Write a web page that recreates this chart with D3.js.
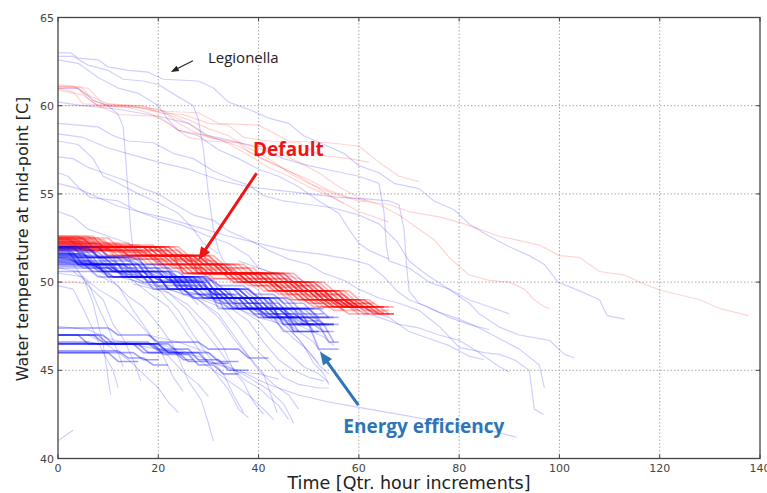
<!DOCTYPE html>
<html><head><meta charset="utf-8">
<script src="https://cdn.jsdelivr.net/npm/d3@7"></script>
<style>body{margin:0;background:#fff}svg{display:block}</style>
</head><body>
<svg id="c" width="767" height="493"></svg>
<script>
const xTicks = [0,20,40,60,80,100,120,140];
const yTicks = [40,45,50,55,60,65];
const xLabel = "Time [Qtr. hour increments]";
const yLabel = "Water temperature at mid-point [C]";

// Step-format series: [startTemp, x1,temp1, x2,temp2, ..., xEnd]
const redDense = [
 [52.5, 5,52.0, 21,51.5, 28,51.0, 33,50.5, 43,50.0, 49,49.5, 54,49.0, 58,48.6, 63],
 [52.4, 3,52.0, 19,51.5, 27,51.0, 31,50.5, 41,50.0, 48,49.5, 53,49.0, 57,48.6, 61,48.2, 66],
 [52.3, 6,52.0, 20,51.5, 26,50.5, 39,50.0, 46,49.5, 52,49.0, 56,48.6, 60],
 [52.2, 2,51.8, 14,51.5, 24,51.0, 30,50.5, 38,50.0, 45,49.5, 50,49.0, 55,48.6, 62,48.2, 67],
 [52.0, 17,51.5, 25,51.0, 29,50.5, 40,50.0, 47,49.5, 51,49.0, 57,48.6, 64],
 [52.5, 8,52.0, 22,51.5, 30,51.0, 35,50.5, 44,50.0, 50,49.5, 55,49.0, 59,48.6, 65],
 [52.1, 4,51.8, 12,51.5, 22,51.0, 27,50.5, 37,50.0, 43,49.5, 49,49.0, 54,48.6, 58],
 [52.0, 15,51.5, 23,50.5, 36,50.0, 44,49.5, 52,49.0, 58,48.6, 62,48.2, 66],
 [52.3, 5,52.0, 18,51.5, 28,51.0, 32,50.5, 42,50.0, 49,49.5, 54,49.0, 60],
 [51.9, 10,51.5, 20,51.0, 26,50.5, 35,50.0, 41,49.5, 46,49.0, 52,48.6, 57],
 [52.5, 7,52.0, 21,51.5, 29,50.5, 41,50.0, 48,49.5, 53,49.0, 56,48.6, 61,48.2, 64],
 [52.2, 4,52.0, 16,51.5, 25,51.0, 31,50.5, 39,50.0, 46,49.5, 51,49.0, 56,48.6, 63],
 [52.0, 20,51.5, 27,51.0, 33,50.5, 45,50.0, 51,49.5, 56,49.0, 60,48.6, 65],
 [52.4, 2,52.0, 13,51.5, 23,51.0, 28,50.5, 36,50.0, 42,49.5, 48,49.0, 53,48.6, 59],
 [52.6, 6,52.1, 19,51.5, 26,51.0, 32,50.5, 43,50.0, 48,49.5, 55,49.0, 59,48.6, 62],
 [51.9, 8,51.5, 18,51.0, 24,50.5, 34,50.0, 40,49.5, 45,49.0, 50,48.6, 55],
 [52.3, 9,52.0, 20,51.5, 27,50.5, 38,50.0, 45,49.5, 50,49.0, 55,48.6, 59,48.2, 62],
 [52.1, 3,51.8, 15,51.5, 24,51.0, 29,50.5, 40,50.0, 47,49.5, 53,49.0, 57,48.6, 60],
 [52.5, 5,52.0, 22,51.5, 30,51.0, 36,50.5, 46,50.0, 52,49.5, 57,49.0, 61,48.6, 66],
 [52.0, 12,51.5, 21,51.0, 27,50.5, 37,50.0, 44,49.5, 49,49.0, 54,48.6, 58],
 [52.4, 4,52.0, 18,51.5, 26,51.0, 30,50.5, 42,50.0, 48,49.5, 52,49.0, 58,48.6, 61],
 [52.2, 7,51.8, 16,51.5, 23,50.5, 35,50.0, 43,49.5, 50,49.0, 55,48.6, 60,48.2, 65],
 [52.6, 4,52.2, 14,51.8, 22,51.3, 30,50.8, 38,50.2, 45,49.8, 50,49.3, 56,48.8, 62,48.4, 66],
 [52.5, 10,52.0, 23,51.5, 29,51.0, 34,50.5, 44,50.0, 50,49.5, 56,49.0, 61,48.6, 65],
 [52.4, 6,52.1, 16,51.8, 24,51.2, 31,50.8, 39,50.2, 46,49.8, 52,49.3, 57,48.8, 63],
 [52.3, 3,52.0, 11,51.5, 19,51.0, 25,50.5, 34,50.0, 42,49.5, 47,49.0, 53,48.6, 58,48.2, 62],
 [52.2, 8,51.8, 17,51.3, 25,50.8, 33,50.2, 41,49.8, 47,49.3, 53,48.8, 59,48.4, 64],
 [52.1, 6,52.0, 18,51.5, 26,50.5, 37,50.0, 43,49.5, 51,49.0, 57,48.6, 63,48.2, 67],
 [52.0, 14,51.5, 22,51.0, 28,50.5, 38,50.0, 45,49.5, 50,49.0, 55,48.6, 60],
 [51.9, 6,51.5, 16,51.0, 23,50.5, 33,50.0, 39,49.5, 44,49.0, 49,48.6, 54],
 [51.8, 10,51.3, 19,50.8, 28,50.2, 36,49.8, 42,49.3, 48,48.8, 53,48.4, 57],
 [52.5, 3,52.2, 12,51.8, 20,51.5, 27,51.0, 32,50.5, 41,50.0, 47,49.5, 53,49.0, 57,48.6, 62],
 [52.4, 9,52.0, 24,51.5, 31,51.0, 37,50.5, 47,50.0, 53,49.5, 58,49.0, 62,48.6, 67],
 [52.3, 4,51.8, 13,51.3, 21,50.8, 29,50.2, 37,49.8, 44,49.3, 49,48.8, 55,48.4, 60],
 [52.0, 8,51.5, 17,51.0, 24,50.5, 36,50.0, 42,49.5, 47,49.0, 52,48.6, 56],
 [52.6, 7,52.0, 19,51.5, 28,51.0, 33,50.5, 45,50.0, 51,49.5, 55,49.0, 60,48.6, 64,48.2, 67],
 [52.2, 5,51.9, 15,51.5, 21,51.0, 26,50.5, 36,50.0, 43,49.5, 48,49.0, 53,48.6, 59],
 [51.9, 12,51.5, 19,51.0, 25,50.5, 33,50.0, 40,49.5, 46,49.0, 51,48.6, 56,48.2, 60],
 [52.1, 9,51.7, 18,51.2, 27,50.7, 35,50.2, 42,49.7, 48,49.2, 54,48.7, 61],
 [52.5, 2,52.0, 17,51.5, 24,51.0, 31,50.5, 40,50.0, 46,49.5, 51,49.0, 56,48.6, 61,48.3, 65]
];

const blueDense = [
 [52.0, 3,51.4, 10,51.0, 16,50.3, 26,49.6, 33,49.1, 40,48.5, 47,48.0, 52],
 [51.8, 2,51.0, 12,50.3, 24,49.6, 32,49.1, 39,48.5, 46,48.0, 50,47.6, 54],
 [51.6, 5,51.0, 9,50.6, 18,50.1, 27,49.6, 35,49.1, 42,48.5, 50],
 [51.4, 7,50.6, 15,50.3, 22,49.6, 30,49.1, 38,48.5, 44,48.0, 48,47.6, 53],
 [52.0, 4,51.4, 13,51.0, 19,50.3, 28,49.6, 36,49.1, 41,48.5, 49,48.0, 55],
 [51.2, 6,50.6, 14,50.3, 21,50.0, 29,49.1, 37,48.5, 43,47.6, 51,47.2, 55],
 [51.7, 3,51.0, 11,50.3, 20,49.6, 27,49.1, 34,48.5, 45,48.0, 51,47.6, 56],
 [51.5, 8,51.0, 15,50.3, 25,49.6, 31,49.1, 40,48.5, 47],
 [51.9, 2,51.4, 9,51.0, 17,50.3, 23,50.0, 30,49.1, 36,48.5, 42,48.0, 48],
 [51.0, 10,50.6, 19,50.3, 26,49.6, 33,49.1, 41,48.5, 48,47.6, 55],
 [51.6, 5,51.0, 12,50.6, 20,50.1, 28,49.6, 34,48.5, 44,48.0, 49,47.2, 54],
 [52.0, 6,51.4, 14,50.6, 22,50.3, 29,49.6, 37,49.1, 43,48.5, 51],
 [51.3, 4,51.0, 13,50.3, 23,49.6, 31,49.1, 39,48.0, 46,47.6, 52,46.6, 55],
 [51.8, 7,51.0, 16,50.3, 27,49.6, 35,49.1, 44,48.5, 50,48.0, 54],
 [51.5, 3,51.0, 10,50.6, 17,50.0, 25,49.6, 32,49.1, 38,48.5, 45,47.6, 50,46.2, 56],
 [51.1, 9,50.6, 18,50.3, 24,49.6, 30,48.5, 40,48.0, 47,47.6, 53],
 [51.9, 5,51.4, 11,50.6, 21,50.3, 27,49.6, 36,49.1, 42,48.0, 48,47.6, 51],
 [51.4, 2,51.0, 8,50.3, 19,50.0, 26,49.6, 31,48.5, 41,48.0, 45,47.2, 52],
 [52.0, 2,51.7, 8,51.2, 15,50.8, 22,50.2, 30,49.8, 37,49.3, 43,48.8, 49,48.2, 53],
 [51.8, 4,51.4, 12,50.8, 20,50.3, 29,49.6, 36,49.1, 42,48.5, 48,48.0, 54],
 [51.6, 3,51.2, 10,50.6, 17,50.3, 25,49.6, 31,49.1, 37,48.5, 43,47.6, 49],
 [51.4, 5,51.0, 14,50.3, 22,49.8, 29,49.3, 35,48.8, 41,48.2, 47,47.8, 52],
 [51.2, 4,50.8, 11,50.3, 20,49.6, 28,49.1, 35,48.5, 44,48.0, 50,47.6, 55],
 [51.0, 7,50.6, 16,50.0, 24,49.6, 30,49.1, 38,48.5, 45,47.2, 52],
 [50.8, 6,50.3, 15,50.0, 23,49.3, 30,48.8, 37,48.2, 44,47.6, 50],
 [50.6, 9,50.3, 17,49.6, 25,49.1, 33,48.5, 40,48.0, 46,47.2, 51],
 [51.9, 6,51.4, 16,50.6, 24,50.1, 31,49.6, 38,49.1, 45,48.5, 52,48.0, 56],
 [51.7, 2,51.0, 7,50.6, 13,50.3, 22,49.6, 29,49.1, 36,48.5, 42,48.0, 47],
 [51.5, 6,50.8, 15,50.3, 23,49.6, 32,49.1, 39,48.5, 47,47.6, 53,46.6, 56],
 [52.0, 8,51.4, 15,51.0, 21,50.3, 30,49.6, 38,49.1, 46,48.5, 53],
 [51.3, 3,50.8, 9,50.3, 18,49.8, 26,49.3, 33,48.8, 40,48.2, 46,47.6, 51],
 [51.1, 5,50.6, 12,50.3, 20,49.6, 27,49.1, 33,48.5, 39,48.0, 44],
 [50.9, 8,50.3, 18,49.6, 25,49.1, 32,48.5, 38,48.0, 43,47.2, 48],
 [51.6, 4,51.0, 13,50.6, 22,50.0, 29,49.3, 36,48.8, 44,48.2, 51,47.6, 55]
];

const blueLow = [
 [47.0, 9,46.5, 22,46.0, 30,45.5, 36],
 [47.0, 7,46.6, 18,46.2, 26,45.6, 32,45.0, 38],
 [46.5, 20,46.0, 28,45.4, 34],
 [46.5, 15,46.0, 24,45.5, 30],
 [46.0, 15,45.6, 20],
 [46.1, 12,45.7, 17,45.3, 22],
 [47.4, 10,47.0, 18,46.6, 28,46.2, 36,45.7, 42],
 [46.6, 6,46.5, 19,45.9, 26,45.3, 31,44.8, 36],
 [47.0, 4,46.5, 16,46.0, 21],
 [46.0, 10,45.5, 16],
 [47.0, 8,46.5, 20,46.0, 25],
 [46.5, 18,46.1, 23,45.6, 27]
];

// Explicit point series: [x,temp, x,temp, ...]
const blueFall = [
 [0,51.2, 3,51.0, 5,50.3, 7,48.8, 9,46.5, 10,44.5, 10.5,43.6],
 [0,50.8, 4,50.6, 6,49.8, 9,49.0, 11,47.6, 13,46.8, 15,45.6, 16.5,44.4],
 [0,51.4, 6,51.0, 10,50.3, 14,49.2, 17,48.6, 20,47.6, 23,46.4, 26,44.4, 28.6,43.3, 30,42.0, 31,41.0],
 [0,50.5, 5,50.3, 8,49.6, 12,48.9, 16,47.7, 19,46.8, 22,45.8, 25,44.9, 28,44.2, 30,43.5],
 [2,51.6, 8,51.0, 14,50.3, 18,49.4, 22,48.6, 25,47.4, 28,46.2, 31,45.0, 34,43.9, 36,42.8, 38,42.3],
 [5,51.2, 12,50.6, 18,50.1, 22,49.4, 26,48.7, 30,47.5, 33,46.3, 35,45.0, 37,44.3, 39,43.2, 41,42.5],
 [10,50.6, 18,50.3, 24,49.8, 28,49.0, 32,48.2, 35,47.0, 38,45.8, 41,44.8, 43.7,42.6],
 [12,50.3, 22,49.6, 28,49.1, 33,48.5, 36,47.5, 39,46.3, 42,45.5, 45,44.6, 48,44.2, 52,44.0, 54,44.0],
 [20,49.8, 30,49.2, 36,48.5, 40,47.8, 43,46.8, 46,46.0, 49,45.2, 52,44.8, 54,44.3],
 [25,49.5, 33,49.0, 40,48.4, 44,47.6, 47,46.8, 50,46.1, 52,45.3, 54,44.8],
 [30,49.1, 38,48.5, 44,48.0, 48,47.2, 51,46.6, 53,45.8, 55,45.0],
 [0,47.5, 6,47.3, 10,46.8, 16,46.4, 22,46.1, 28,45.8, 32,45.3, 36,44.9, 40,44.8, 44,44.5],
 [0,41.0, 1.5,41.3, 3,41.6],
 [0,49.8, 3,49.6, 5,48.5, 7,47.3, 9,46.0, 11,45.0, 12,44.0],
 [30,45.5, 36,45.0, 42,44.2, 48,43.6, 54,43.2, 60,42.9, 68,42.5, 74,42.2, 80,41.9, 86,41.6, 91.5,41.2],
 [15,49.9, 22,49.4, 26,48.4, 29,47.3, 32,46.2, 34,45.4, 37,44.5, 40,44.0, 44,43.0, 46,42.2],
 [18,47.0, 24,46.6, 30,46.0, 34,45.2, 38,44.6, 42,43.9, 45,43.1, 47,42.0],
 [35,48.6, 40,48.0, 45,47.6, 48,46.8, 50,46.0, 52,45.4],
 [40,48.2, 46,47.8, 50,47.3, 53,46.9, 55,46.4],
 [3,50.6, 6,50.0, 8,48.6, 10,47.4, 12,46.0, 13,45.2],
 [8,50.4, 12,49.8, 15,48.4, 18,47.2, 21,45.8, 23,44.6, 25,43.8],
 [14,50.2, 20,49.6, 24,48.4, 27,47.0, 30,45.8, 33,44.8, 35,43.6, 37,42.6],
 [22,49.6, 28,49.0, 32,48.0, 35,46.8, 38,45.8, 40,45.0, 43,44.2, 46,43.6, 48,42.8],
 [28,49.2, 34,48.6, 38,47.8, 41,46.6, 44,45.6, 47,45.0, 50,44.6, 53,44.4],
 [36,48.8, 42,48.2, 46,47.4, 49,46.4, 51,45.4, 53,44.8, 54,44.2],
 [6,47.0, 10,46.4, 14,45.6, 17,44.8, 20,44.0, 22,43.2, 24,42.6],
 [20,46.5, 26,46.0, 30,45.2, 34,44.4, 38,43.6, 41,42.8, 43,42.2]
];

const blueSparse = [
 [0,63.0, 2.5,63.0, 4,62.7, 8,62.6, 10,62.2, 14,62.0, 18,61.9, 21,61.5, 28,61.4, 31,61.0, 34,60.2, 38,59.8, 42,59.3, 46,59.0, 49,58.3, 53,57.8, 57,57.3, 60,56.6, 64,56.2, 67,55.6, 72,55.3, 75,54.6, 79,54.1, 82,53.3, 86,52.6, 90,52.0, 94,51.5, 97,51.0, 99.7,50.0, 104,49.5, 108,49.0, 109.5,48.1, 113,47.9],
 [0,62.8, 3,62.8, 6,62.3, 10,62.0, 13,61.5, 17,61.4, 20,61.2, 24,60.5, 27,60.0, 28,59.2, 29,57.5, 30,55.0, 31,53.0, 32,51.8, 33,51.2, 35,50.6, 38,50.0, 40,49.5, 42,48.6, 44,48.3],
 [0,61.0, 4,61.0, 7,60.3, 10,60.0, 12,59.5, 13,58.8, 13.5,57.0, 14,55.0, 14.5,53.0, 15,51.8, 17,51.0, 20,50.5, 23,50.2, 26,49.3, 28,48.7],
 [0,59.0, 8,58.8, 11,58.3, 14,58.0, 19,57.9, 23,57.3, 27,57.0, 31,56.3, 35,55.8, 38,55.5, 41,54.9, 45,54.6, 50,54.4, 55,54.2, 60,53.8, 64,53.3, 67.6,52.3, 70,51.2, 73.6,50.4, 78,49.6, 82,48.8, 84,48.2, 88,47.45, 92,47.0, 98,46.7, 101,45.9, 103,45.7],
 [0,57.1, 3,57.0, 6,56.5, 9,56.2, 13,55.8, 17,55.3, 20,55.0, 24,54.3, 27,53.8, 31,53.5, 34,52.9, 38,52.4, 42,51.8, 46,51.3, 50,51.0, 53,50.5, 57,50.1, 60,49.6, 64,49.1, 68,48.8, 72,48.4, 76,47.5, 80,46.3, 85,46.0, 88,45.9, 91,45.6, 94,45.0, 95,42.8, 96.8,42.5],
 [0,56.2, 2,56.0, 4,55.4, 6.4,54.8, 12,54.6, 16,54.0, 20,53.6, 25,53.2, 30,52.6, 34,52.2, 38,51.5, 40,50.8, 44,50.4, 48,49.8, 52,49.3, 56,48.8, 60,48.4, 64,48.0, 68,47.6, 72,47.4, 76,47.0, 80,46.7, 84,46.0, 88,45.2, 90,44.9],
 [0,60.2, 5,60.0, 12,59.8, 20,59.4, 26,59.0, 30,58.3, 35,58.0, 40,57.6, 45,57.0, 50,56.6, 55,56.3, 60,56.0, 64,55.6, 65,54.0, 65.5,52.0, 66,51.2, 70,50.8, 74,50.0, 78,49.6, 82,49.0, 86,48.6, 90,48.2],
 [0,58.4, 5,58.2, 10,57.6, 15,57.2, 20,56.8, 26,56.4, 32,55.8, 38,55.4, 44,55.2, 50,55.0, 56,54.8, 62,54.7, 66,54.6, 68,54.4, 69,53.0, 69.5,51.0, 70,49.5, 72,48.8, 76,48.3, 80,47.9, 84,47.4, 88,46.8, 92,46.2, 96,45.3, 97,44.0],
 [0,55.6, 4,55.3, 8,54.8, 12,54.3, 16,54.0, 22,53.6, 28,53.1, 34,52.6, 40,52.2, 46,51.8, 52,51.6, 58,51.3, 62,51.0, 65,50.3, 67.6,49.5, 70,49.0, 73.6,48.6, 78,48.0, 82,47.6, 86,47.3],
 [0,62.6, 4,62.4, 8,61.6, 12,61.0, 16,60.7, 20,60.0, 22,59.2, 24,58.6, 28,58.3, 32,57.5, 36,57.0, 40,56.4, 44,56.0, 48,55.4, 52,54.6, 56,53.9, 58,53.0, 60,52.2, 62,51.8, 66,51.3],
 [0,54.0, 3,53.7, 6,53.0, 10,52.6, 14,52.2, 18,51.5, 22,50.8, 25,50.4],
 [0,58.0, 4,57.8, 7,57.0, 9,56.0, 12,55.6, 16,55.0, 20,54.5, 24,53.9, 27,53.0, 29,52.2, 32,51.6],
 [36,51.2, 42,50.6, 48,50.2, 52,49.5, 56,48.9, 60,48.6, 66,48.0, 70,47.2, 74,46.8, 78,46.4, 82,45.8, 85,45.6]
];

const redSparse = [
 [0,61.1, 4.5,61.1, 7,60.3, 10,60.0, 17,60.0, 20,59.6, 25,59.5, 30,59.0, 34,58.9, 37,58.2, 42,58.0, 48,57.9, 52,57.2, 58,57.0, 62,56.8],
 [0,61.0, 4,61.0, 6,60.4, 8,60.0, 14,59.9, 18,59.6, 22,59.0, 26,58.2, 30,58.0, 36,57.9, 38,57.4, 42,56.8, 46,56.3, 50,55.8, 54,55.2, 58,54.8, 61.6,54.6],
 [0,61.0, 3,60.8, 5,60.1, 12,60.0, 20,59.8, 26,59.2, 30,58.7, 34,58.3, 38,57.6, 42,57.0, 46,56.2, 50,55.6, 55,55.0, 60,54.6, 66,54.4, 70,54.0, 76,53.7, 80,53.4, 84,53.0, 88,52.6, 96,52.1, 100,51.5, 104,51.4, 108,50.6, 113,50.4, 116,50.0, 120,49.55, 128,49.0, 132,48.5, 137.7,48.1],
 [0,60.9, 5,60.6, 8,60.0, 16,59.9, 22,59.5, 26,59.0, 30,58.2, 36,57.9, 42,57.6, 48,56.8, 52,56.2, 56,55.4, 60,54.8, 64,54.4, 68,53.8, 72,53.0, 75,52.4, 78,51.4, 82,50.4, 86,50.1, 90,50.0, 93,49.6, 95,49.0, 97,48.6, 98,48.5],
 [0,60.0, 8,60.0, 12,59.5, 20,59.4, 24,58.6, 30,58.3, 36,57.7, 40,57.1, 44,56.6, 48,56.0, 52,55.3, 56,54.6, 60,54.0, 64,53.6, 66,53.4],
 [0,61.1, 6,61.0, 9,60.1, 14,60.0, 20,59.7, 28,59.6, 32,59.0, 40,58.9, 46,58.0, 54,57.9, 60,57.7, 64,56.8, 68,56.0, 72,55.7],
 [0,61.2, 3,61.1, 6,60.6, 10,60.1, 16,60.0, 21,59.7, 24,59.0, 28,58.4, 33,58.0, 38,57.2, 42,56.5, 46,56.0, 50,55.4, 54,54.9, 57,54.5],
 [0,50.0, 3,50.0, 6,49.9]
];

// Annotations in data coordinates
const annotations = [
 {text:"Legionella", tx:29.9, ty:62.42, from:[26.9,62.55], to:[22.5,61.91], color:"#222", size:15, weight:"normal", lw:1.1, head:[8,6]},
 {text:"Default", tx:38.9, ty:57.15, from:[39.6,56.17], to:[28.0,51.25], color:"#f01414", size:19, weight:"bold", lw:3, head:[13,11]},
 {text:"Energy efficiency", tx:56.9, ty:41.43, from:[59.9,43.03], to:[52.25,46.05], color:"#2e75b6", size:19, weight:"bold", lw:3, head:[13,11]}
];

const W = 767, H = 493;
const M = {left:58, right:7, top:17.5, bottom:34.5};
const svg = d3.select("#c");
const x = d3.scaleLinear().domain([0,140]).range([M.left, W - M.right]);
const y = d3.scaleLinear().domain([40,65]).range([H - M.bottom, M.top]);

const STEP_W = 2; // width of a temperature step transition, in time units
function stepPoints(a){
  const pts = [[0, a[0]]]; let cur = a[0];
  for (let i = 1; i < a.length - 1; i += 2){
    pts.push([a[i], cur]); pts.push([a[i] + STEP_W, a[i+1]]); cur = a[i+1];
  }
  pts.push([a[a.length-1], cur]);
  return pts;
}
function flatPoints(a){ const p=[]; for(let i=0;i<a.length;i+=2)p.push([a[i],a[i+1]]); return p; }

const defs = svg.append("defs");
defs.append("clipPath").attr("id","clip").append("rect")
  .attr("x",x(0)).attr("y",y(65)).attr("width",x(140)-x(0)).attr("height",y(40)-y(65));
defs.append("filter").attr("id","soft").append("feGaussianBlur").attr("stdDeviation",0.4);

// grid
const grid = svg.append("g");
grid.selectAll("line.vx").data(xTicks.slice(1,-1)).join("line")
  .attr("x1",d=>x(d)).attr("x2",d=>x(d)).attr("y1",y(40)).attr("y2",y(65))
  .attr("stroke","#a8a8a8").attr("stroke-width",1).attr("stroke-dasharray","1.5,2");
grid.selectAll("line.hy").data(yTicks.slice(1,-1)).join("line")
  .attr("y1",d=>y(d)).attr("y2",d=>y(d)).attr("x1",x(0)).attr("x2",x(140))
  .attr("stroke","#a8a8a8").attr("stroke-width",1).attr("stroke-dasharray","1.5,2");

const line = d3.line().x(d=>x(d[0])).y(d=>y(d[1]));
const plot = svg.append("g").attr("clip-path","url(#clip)").append("g").attr("filter","url(#soft)");
function draw(series, conv, color, op, sw){
  plot.append("g").selectAll("path").data(series.map(conv)).join("path")
    .attr("d", line).attr("fill","none").attr("stroke",color)
    .attr("stroke-width",sw).attr("stroke-opacity",op).attr("stroke-linejoin","round");
}
draw(blueSparse, flatPoints, "#0000ff", 0.19, 1.2);
draw(redSparse, flatPoints, "#ff0000", 0.17, 1.2);
draw(blueFall, flatPoints, "#0000ff", 0.2, 1.1);
draw(redDense, stepPoints, "#ff0000", 0.3, 1.7);
draw(blueDense, stepPoints, "#0000ff", 0.3, 1.7);
draw(blueLow, stepPoints, "#0000ff", 0.38, 1.6);

// frame
svg.append("rect").attr("x",x(0)).attr("y",y(65)).attr("width",x(140)-x(0)).attr("height",y(40)-y(65))
  .attr("fill","none").attr("stroke","#444").attr("stroke-width",1.3);

// ticks (inward, all sides)
const tk = svg.append("g").attr("stroke","#444").attr("stroke-width",1);
xTicks.forEach(t=>{
  tk.append("line").attr("x1",x(t)).attr("x2",x(t)).attr("y1",y(40)).attr("y2",y(40)-4);
  tk.append("line").attr("x1",x(t)).attr("x2",x(t)).attr("y1",y(65)).attr("y2",y(65)+4);
});
yTicks.forEach(t=>{
  tk.append("line").attr("y1",y(t)).attr("y2",y(t)).attr("x1",x(0)).attr("x2",x(0)+4);
  tk.append("line").attr("y1",y(t)).attr("y2",y(t)).attr("x1",x(140)).attr("x2",x(140)-4);
});

const font = "'DejaVu Sans', Verdana, sans-serif";
svg.append("g").selectAll("text").data(xTicks).join("text")
  .attr("x",d=>x(d)).attr("y",y(40)+13).attr("text-anchor","middle")
  .attr("font-family",font).attr("font-size",11).attr("fill","#444").text(d=>d);
svg.append("g").selectAll("text").data(yTicks).join("text")
  .attr("x",x(0)-4).attr("y",d=>y(d)+4).attr("text-anchor","end")
  .attr("font-family",font).attr("font-size",11).attr("fill","#444").text(d=>d);

svg.append("text").attr("x",409).attr("y",489).attr("text-anchor","middle")
  .attr("font-family",font).attr("font-size",17.5).attr("fill","#222").text(xLabel);
svg.append("text").attr("transform","translate(27.5,239) rotate(-90)").attr("text-anchor","middle")
  .attr("font-family",font).attr("font-size",16).attr("fill","#222").text(yLabel);

// annotations
annotations.forEach(a=>{
  const x1=x(a.from[0]), y1=y(a.from[1]), x2=x(a.to[0]), y2=y(a.to[1]);
  const dx=x2-x1, dy=y2-y1, L=Math.hypot(dx,dy), ux=dx/L, uy=dy/L;
  const [hl,hw]=a.head;
  const bx=x2-ux*hl, by=y2-uy*hl;
  svg.append("line").attr("x1",x1).attr("y1",y1).attr("x2",bx+ux*1).attr("y2",by+uy*1)
    .attr("stroke",a.color).attr("stroke-width",a.lw);
  svg.append("path").attr("d",`M${x2},${y2}L${bx-uy*hw/2},${by+ux*hw/2}L${bx+uy*hw/2},${by-ux*hw/2}Z`)
    .attr("fill",a.color);
  svg.append("text").attr("x",x(a.tx)).attr("y",y(a.ty))
    .attr("font-family","'Open Sans', 'Noto Sans', sans-serif").attr("font-size",a.size)
    .attr("font-weight",a.weight).attr("fill",a.color).text(a.text);
});
</script>
</body></html>
